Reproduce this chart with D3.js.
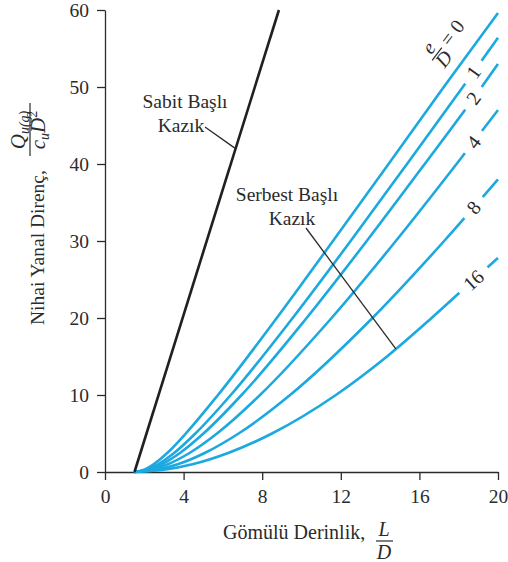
<!DOCTYPE html>
<html>
<head>
<meta charset="utf-8">
<script src="https://cdn.jsdelivr.net/npm/d3@7"></script>
<style>
  body { margin: 0; background: #fff; }
  svg { display: block; font-family: "Liberation Serif", "DejaVu Serif", serif; }
</style>
</head>
<body>
<svg id="chart" width="508" height="562"></svg>
<script>
// tick values
var xTicks = [0, 4, 8, 12, 16, 20];
var yTicks = [0, 10, 20, 30, 40, 50, 60];

// fixed head pile (L/D, Q)
var fixedHead = [[1.5, 0], [8.85, 60]];

// free head piles, one array per e/D, points [L/D, Q/(cu D^2)]
var eValues = [0, 1, 2, 4, 8, 16];
var freeE0 = [[1.5, 0], [1.95, 0.25], [2.47, 1], [3.18, 2.5], [4.11, 5], [5.75, 10], [8.74, 20], [11.6, 30], [14.43, 40], [17.24, 50], [20, 59.6]];
var freeE1 = [[1.5, 0], [2.07, 0.25], [2.70, 1], [3.53, 2.5], [4.60, 5], [6.40, 10], [9.55, 20], [12.5, 30], [15.37, 40], [18.21, 50], [20, 56.4]];
var freeE2 = [[1.5, 0], [2.16, 0.25], [2.89, 1], [3.83, 2.5], [5.01, 5], [6.95, 10], [10.26, 20], [13.32, 30], [16.27, 40], [19.17, 50], [20, 53]];
var freeE4 = [[1.5, 0], [2.32, 0.25], [3.2, 1], [4.32, 2.5], [5.70, 5], [7.89, 10], [11.53, 20], [14.80, 30], [17.89, 40], [20, 47]];
var freeE8 = [[1.5, 0], [2.57, 0.25], [3.70, 1], [5.10, 2.5], [6.8, 5], [9.42, 10], [13.61, 20], [17.26, 30], [20, 38]];
var freeE16 = [[1.5, 0], [2.92, 0.25], [4.45, 1], [6.3, 2.5], [8.5, 5], [11.75, 10], [14.35, 15], [16.62, 20], [18.78, 25], [20, 27.8]];
var freeCurves = [freeE0, freeE1, freeE2, freeE4, freeE8, freeE16];

var labelAt = 18.75;   // L/D where the e/D labels sit
var fixedPointerQ = 42; // where the "Sabit" pointer touches
var freePointerL = 14.8; // where the "Serbest" pointer touches e/D=16

var textColor = '#2b2b2b';
var blue = '#1ba9df';
var fontSize = 19.5;

var svg = d3.select('#chart');

var x = d3.scaleLinear([0, 20], [105, 498]);
var y = d3.scaleLinear([0, 60], [472, 10]);

// axes
var xAxis = svg.append('g')
  .attr('transform', 'translate(0,' + y(0) + ')')
  .call(d3.axisBottom(x).tickValues(xTicks).tickSize(8).tickSizeOuter(0).tickPadding(9));

var yAxis = svg.append('g')
  .attr('transform', 'translate(' + x(0) + ',0)')
  .call(d3.axisLeft(y).tickValues(yTicks).tickSize(8).tickSizeOuter(0).tickPadding(8));

[xAxis, yAxis].forEach(function(g) {
  g.attr('font-family', null).attr('font-size', fontSize).style('color', textColor);
  g.selectAll('path, line').attr('stroke-width', 1.3);
});

// interpolate q on a curve at a given L
function qAt(curve, L) {
  for (var i = 1; i < curve.length; i++) {
    if (curve[i][0] >= L) {
      var a = curve[i - 1], b = curve[i];
      return a[1] + (b[1] - a[1]) * (L - a[0]) / (b[0] - a[0]);
    }
  }
  return curve[curve.length - 1][1];
}

var line = d3.line()
  .x(function(d) { return x(d[0]); })
  .y(function(d) { return y(d[1]); })
  .curve(d3.curveMonotoneX);

// free head curves
svg.append('g')
  .selectAll('path')
  .data(freeCurves)
  .enter()
  .append('path')
  .attr('d', line)
  .attr('fill', 'none')
  .attr('stroke', blue)
  .attr('stroke-width', 2.6);

// fixed head line
svg.append('path')
  .attr('d', d3.line().x(function(d) { return x(d[0]); }).y(function(d) { return y(d[1]); })(fixedHead))
  .attr('fill', 'none')
  .attr('stroke', '#231f20')
  .attr('stroke-width', 2.6);

// e/D labels with a white gap in the curve
freeCurves.forEach(function(curve, i) {
  if (i === 0) return;
  var q = qAt(curve, labelAt);
  var px = x(labelAt), py = y(q);
  var p2x = x(labelAt + 0.3), p2y = y(qAt(curve, labelAt + 0.3));
  var angle = Math.atan2(p2y - py, p2x - px) * 180 / Math.PI;
  var g = svg.append('g').attr('transform', 'translate(' + px + ',' + py + ') rotate(' + angle + ')');
  var rect = g.append('rect').attr('fill', '#fff');
  var t = g.append('text')
    .attr('text-anchor', 'middle')
    .attr('dy', '0.35em')
    .attr('font-size', 20)
    .attr('fill', textColor)
    .text(eValues[i]);
  var w = t.node().getComputedTextLength() + 18;
  rect.attr('x', -w / 2).attr('y', -8).attr('width', w).attr('height', 16);
});

// e/D = 0 label
var l0 = svg.append('g').attr('transform', 'translate(437,54) rotate(-53)')
  .attr('font-size', 20).attr('fill', textColor);
l0.append('text').attr('text-anchor', 'middle').attr('y', -4).attr('font-style', 'italic').text('e');
l0.append('line').attr('x1', -8).attr('x2', 8).attr('y1', 0).attr('y2', 0)
  .attr('stroke', textColor).attr('stroke-width', 1.2);
l0.append('text').attr('text-anchor', 'middle').attr('y', 15).attr('font-style', 'italic').text('D');
l0.append('text').attr('x', 13).attr('y', 6).text('= 0');

// annotations
var sabit = svg.append('g').attr('font-size', fontSize).attr('fill', textColor).attr('text-anchor', 'middle');
sabit.append('text').attr('x', 185).attr('y', 108).text('Sabit Başlı');
sabit.append('text').attr('x', 181).attr('y', 132).text('Kazık');
var fixedL = fixedHead[0][0] + (fixedHead[1][0] - fixedHead[0][0]) * fixedPointerQ / fixedHead[1][1];
svg.append('line')
  .attr('x1', 205).attr('y1', 127)
  .attr('x2', x(fixedL)).attr('y2', y(fixedPointerQ))
  .attr('stroke', textColor).attr('stroke-width', 1.3);

var serbest = svg.append('g').attr('font-size', fontSize).attr('fill', textColor).attr('text-anchor', 'middle');
serbest.append('text').attr('x', 287).attr('y', 201).text('Serbest Başlı');
serbest.append('text').attr('x', 292).attr('y', 225).text('Kazık');
svg.append('line')
  .attr('x1', 306).attr('y1', 228)
  .attr('x2', x(freePointerL)).attr('y2', y(qAt(freeE16, freePointerL)))
  .attr('stroke', textColor).attr('stroke-width', 1.3);

// x axis title
var xt = svg.append('g').attr('font-size', 20).attr('fill', textColor);
xt.append('text').attr('x', 223).attr('y', 539).text('Gömülü Derinlik,');
xt.append('text').attr('x', 384).attr('y', 536).attr('text-anchor', 'middle').attr('font-style', 'italic').text('L');
xt.append('line').attr('x1', 376).attr('x2', 393).attr('y1', 541).attr('y2', 541)
  .attr('stroke', textColor).attr('stroke-width', 1.2);
xt.append('text').attr('x', 384).attr('y', 559).attr('text-anchor', 'middle').attr('font-style', 'italic').text('D');

// y axis title
var yt = svg.append('g').attr('transform', 'translate(44,325) rotate(-90)')
  .attr('font-size', fontSize).attr('fill', textColor);
yt.append('text').attr('x', 0).attr('y', 0).text('Nihai Yanal Direnç,');
var num = yt.append('text').attr('x', 195).attr('y', -19).attr('text-anchor', 'middle');
num.append('tspan').attr('font-style', 'italic').attr('font-size', 21).text('Q');
num.append('tspan').attr('font-style', 'italic').attr('font-size', 14).attr('dy', 4).text('u(g)');
yt.append('line').attr('x1', 169).attr('x2', 222).attr('y1', -14).attr('y2', -14)
  .attr('stroke', textColor).attr('stroke-width', 1.2);
var den = yt.append('text').attr('x', 195).attr('y', 1).attr('text-anchor', 'middle');
den.append('tspan').attr('font-style', 'italic').attr('font-size', 21).text('c');
den.append('tspan').attr('font-style', 'italic').attr('font-size', 14).attr('dy', 4).text('u');
den.append('tspan').attr('font-style', 'italic').attr('font-size', 21).attr('dy', -4).text('D');
den.append('tspan').attr('font-size', 14).attr('dy', -8).text('2');
</script>
</body>
</html>
